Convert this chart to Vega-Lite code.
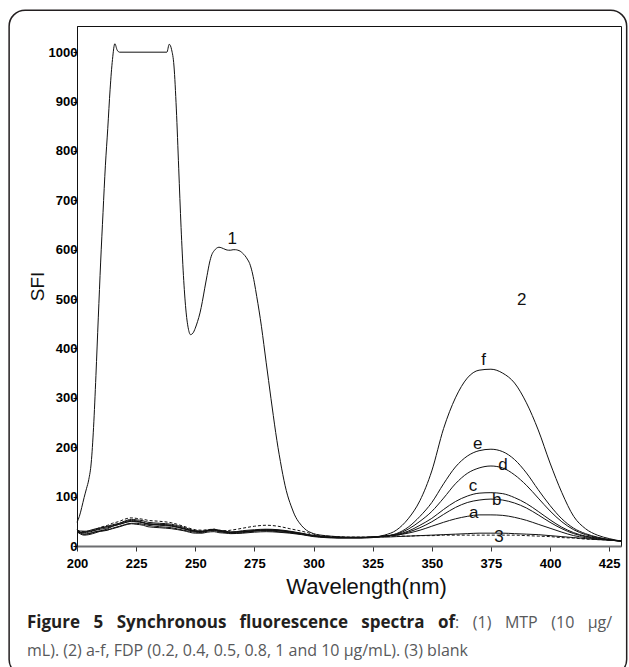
{
  "$schema": "https://vega.github.io/schema/vega-lite/v6.json",
  "width": 544,
  "height": 520,
  "autosize": {"type": "none"},
  "padding": {"left": 77, "top": 26, "right": 8, "bottom": 121},
  "background": "white",
  "config": {
    "view": {"stroke": "#111", "strokeWidth": 1},
    "font": "Liberation Sans",
    "text": {"font": "Open Sans", "fontSize": 16, "align": "left", "baseline": "alphabetic", "color": "#58595b"}
  },
  "datasets": {
    "mtp": [
      {"wl":200,"sfi":48},{"wl":201,"sfi":60},{"wl":202,"sfi":78},{"wl":203,"sfi":98},{"wl":204,"sfi":116},
      {"wl":205,"sfi":135},{"wl":206,"sfi":168},{"wl":207,"sfi":240},{"wl":208,"sfi":345},{"wl":209,"sfi":462},
      {"wl":210,"sfi":575},{"wl":211,"sfi":675},{"wl":212,"sfi":770},{"wl":213,"sfi":845},{"wl":214,"sfi":925},
      {"wl":215,"sfi":985},{"wl":216,"sfi":1017},{"wl":217,"sfi":1004},{"wl":218,"sfi":1000},{"wl":238,"sfi":1000},
      {"wl":239,"sfi":1016},{"wl":240,"sfi":1005},{"wl":241,"sfi":972},{"wl":242,"sfi":885},{"wl":243,"sfi":765},
      {"wl":244,"sfi":645},{"wl":245,"sfi":548},{"wl":246,"sfi":480},{"wl":247,"sfi":442},{"wl":248,"sfi":428},
      {"wl":249,"sfi":431},{"wl":250,"sfi":441},{"wl":251,"sfi":455},{"wl":252,"sfi":472},{"wl":253,"sfi":495},
      {"wl":254,"sfi":522},{"wl":255,"sfi":548},{"wl":256,"sfi":573},{"wl":257,"sfi":590},{"wl":258,"sfi":598},
      {"wl":259,"sfi":603},{"wl":260,"sfi":605},{"wl":261,"sfi":604},{"wl":262,"sfi":602},{"wl":263,"sfi":600},
      {"wl":264,"sfi":599},{"wl":265,"sfi":599},{"wl":266,"sfi":600},{"wl":267,"sfi":600},{"wl":268,"sfi":599},
      {"wl":269,"sfi":597},{"wl":270,"sfi":593},{"wl":271,"sfi":588},{"wl":272,"sfi":581},{"wl":273,"sfi":572},
      {"wl":274,"sfi":556},{"wl":275,"sfi":533},{"wl":276,"sfi":505},{"wl":277,"sfi":476},{"wl":278,"sfi":444},
      {"wl":279,"sfi":408},{"wl":280,"sfi":371},{"wl":281,"sfi":335},{"wl":282,"sfi":299},{"wl":283,"sfi":264},
      {"wl":284,"sfi":230},{"wl":285,"sfi":199},{"wl":286,"sfi":171},{"wl":287,"sfi":145},{"wl":288,"sfi":122},
      {"wl":289,"sfi":103},{"wl":290,"sfi":88},{"wl":291,"sfi":75},{"wl":292,"sfi":63},{"wl":293,"sfi":54},
      {"wl":294,"sfi":47},{"wl":295,"sfi":41},{"wl":296,"sfi":36},{"wl":297,"sfi":32},{"wl":298,"sfi":29},
      {"wl":299,"sfi":27},{"wl":300,"sfi":25},{"wl":305,"sfi":21},{"wl":310,"sfi":19},{"wl":315,"sfi":18},
      {"wl":320,"sfi":18},{"wl":325,"sfi":18},{"wl":330,"sfi":18},{"wl":335,"sfi":19},{"wl":340,"sfi":20},
      {"wl":345,"sfi":21},{"wl":350,"sfi":22},{"wl":355,"sfi":23},{"wl":360,"sfi":24},{"wl":365,"sfi":25},
      {"wl":370,"sfi":26},{"wl":375,"sfi":26},{"wl":380,"sfi":26},{"wl":385,"sfi":25},{"wl":390,"sfi":24},
      {"wl":395,"sfi":23},{"wl":400,"sfi":21},{"wl":405,"sfi":19},{"wl":410,"sfi":17},{"wl":415,"sfi":15},
      {"wl":420,"sfi":13},{"wl":425,"sfi":12},{"wl":430,"sfi":10}
    ],
    "fdp": [
      {"wl":200,"a":31,"b":29,"c":27,"d":34,"e":29,"f":31,"blank":30},
      {"wl":203,"a":30,"b":24,"c":28,"d":24,"e":22,"f":27,"blank":29},
      {"wl":205,"a":30,"b":25,"c":31,"d":25,"e":23,"f":28,"blank":30},
      {"wl":208,"a":33,"b":29,"c":35,"d":29,"e":27,"f":32,"blank":34},
      {"wl":210,"a":36,"b":30,"c":37,"d":31,"e":30,"f":34,"blank":38},
      {"wl":213,"a":40,"b":32,"c":39,"d":35,"e":33,"f":37,"blank":42},
      {"wl":215,"a":43,"b":36,"c":41,"d":40,"e":35,"f":40,"blank":46},
      {"wl":218,"a":46,"b":40,"c":44,"d":46,"e":39,"f":44,"blank":50},
      {"wl":220,"a":49,"b":43,"c":47,"d":50,"e":42,"f":47,"blank":54},
      {"wl":223,"a":52,"b":46,"c":50,"d":54,"e":45,"f":50,"blank":57},
      {"wl":225,"a":51,"b":46,"c":50,"d":53,"e":44,"f":49,"blank":56},
      {"wl":228,"a":48,"b":44,"c":47,"d":51,"e":42,"f":47,"blank":54},
      {"wl":230,"a":45,"b":42,"c":45,"d":48,"e":39,"f":44,"blank":52},
      {"wl":235,"a":44,"b":39,"c":42,"d":46,"e":37,"f":43,"blank":50},
      {"wl":240,"a":42,"b":37,"c":40,"d":44,"e":35,"f":41,"blank":47},
      {"wl":245,"a":36,"b":32,"c":35,"d":38,"e":31,"f":35,"blank":40},
      {"wl":250,"a":30,"b":28,"c":30,"d":31,"e":26,"f":30,"blank":33},
      {"wl":253,"a":30,"b":27,"c":29,"d":30,"e":26,"f":29,"blank":32},
      {"wl":255,"a":31,"b":30,"c":31,"d":32,"e":28,"f":31,"blank":33},
      {"wl":258,"a":33,"b":31,"c":33,"d":34,"e":29,"f":32,"blank":34},
      {"wl":260,"a":32,"b":29,"c":31,"d":31,"e":27,"f":30,"blank":32},
      {"wl":263,"a":30,"b":27,"c":29,"d":29,"e":26,"f":28,"blank":31},
      {"wl":265,"a":28,"b":26,"c":28,"d":28,"e":25,"f":27,"blank":32},
      {"wl":270,"a":29,"b":27,"c":29,"d":31,"e":26,"f":29,"blank":36},
      {"wl":275,"a":31,"b":30,"c":31,"d":33,"e":28,"f":31,"blank":40},
      {"wl":280,"a":33,"b":31,"c":32,"d":34,"e":29,"f":32,"blank":42},
      {"wl":285,"a":32,"b":29,"c":31,"d":33,"e":28,"f":31,"blank":40},
      {"wl":290,"a":29,"b":27,"c":29,"d":30,"e":26,"f":28,"blank":35},
      {"wl":295,"a":25,"b":24,"c":25,"d":26,"e":23,"f":24,"blank":30},
      {"wl":300,"a":21,"b":20,"c":21,"d":21,"e":19,"f":20,"blank":24},
      {"wl":305,"a":19,"b":18,"c":18,"d":19,"e":17,"f":18,"blank":20},
      {"wl":310,"a":17,"b":17,"c":17,"d":17,"e":16,"f":17,"blank":19},
      {"wl":315,"a":17,"b":17,"c":17,"d":17,"e":16,"f":17,"blank":18},
      {"wl":320,"a":17,"b":17,"c":17,"d":17,"e":16,"f":17,"blank":18},
      {"wl":325,"a":18,"b":18,"c":18,"d":18,"e":17,"f":18,"blank":18},
      {"wl":330,"a":20,"b":20,"c":20,"d":20,"e":20,"f":22,"blank":19},
      {"wl":335,"a":22,"b":22,"c":23,"d":24,"e":25,"f":32,"blank":20},
      {"wl":340,"a":26,"b":28,"c":30,"d":34,"e":38,"f":55,"blank":20},
      {"wl":345,"a":32,"b":37,"c":42,"d":50,"e":60,"f":92,"blank":21},
      {"wl":350,"a":40,"b":49,"c":56,"d":70,"e":88,"f":152,"blank":21},
      {"wl":355,"a":48,"b":64,"c":74,"d":97,"e":126,"f":238,"blank":22},
      {"wl":360,"a":55,"b":78,"c":90,"d":126,"e":160,"f":300,"blank":22},
      {"wl":365,"a":60,"b":88,"c":101,"d":147,"e":182,"f":340,"blank":22},
      {"wl":370,"a":63,"b":93,"c":107,"d":158,"e":193,"f":356,"blank":22},
      {"wl":375,"a":63,"b":95,"c":108,"d":162,"e":196,"f":358,"blank":22},
      {"wl":380,"a":62,"b":93,"c":106,"d":158,"e":191,"f":350,"blank":22},
      {"wl":385,"a":58,"b":87,"c":98,"d":144,"e":175,"f":330,"blank":22},
      {"wl":390,"a":52,"b":77,"c":86,"d":123,"e":148,"f":290,"blank":21},
      {"wl":395,"a":44,"b":63,"c":70,"d":97,"e":114,"f":235,"blank":20},
      {"wl":400,"a":36,"b":48,"c":53,"d":71,"e":82,"f":168,"blank":19},
      {"wl":405,"a":28,"b":35,"c":38,"d":49,"e":55,"f":108,"blank":17},
      {"wl":410,"a":21,"b":25,"c":27,"d":33,"e":36,"f":60,"blank":16},
      {"wl":415,"a":17,"b":19,"c":20,"d":23,"e":25,"f":35,"blank":14},
      {"wl":420,"a":14,"b":15,"c":16,"d":17,"e":18,"f":22,"blank":13},
      {"wl":425,"a":12,"b":12,"c":12,"d":13,"e":13,"f":15,"blank":12},
      {"wl":430,"a":10,"b":10,"c":10,"d":10,"e":10,"f":10,"blank":10}
    ],
    "labels": [
      {"label":"1","wl":265.6,"sfi":621},
      {"label":"2","wl":388,"sfi":498},
      {"label":"f","wl":371.9,"sfi":377},
      {"label":"e","wl":369.4,"sfi":206},
      {"label":"d","wl":380.1,"sfi":164},
      {"label":"c","wl":367.4,"sfi":121},
      {"label":"b","wl":377.5,"sfi":93},
      {"label":"a","wl":367.7,"sfi":67},
      {"label":"3","wl":378.4,"sfi":19}
    ]
  },
  "layer": [
    {
      "data": {"values": [{}]},
      "mark": {"type": "rect", "filled": false, "stroke": "#231f20", "strokeWidth": 1.5, "cornerRadius": 16},
      "encoding": {
        "x": {"datum": 171.3, "type": "quantitative", "scale": {"domain": [200, 430], "nice": false, "zero": false}},
        "x2": {"datum": 432.4},
        "y": {"datum": 1085, "type": "quantitative", "scale": {"domain": [0, 1053], "nice": false}},
        "y2": {"datum": -262}
      }
    },
    {
      "data": {"name": "mtp"},
      "mark": {"type": "line", "color": "#111", "strokeWidth": 1, "interpolate": "monotone"},
      "encoding": {
        "x": {
          "field": "wl", "type": "quantitative",
          "scale": {"domain": [200, 430], "nice": false, "zero": false},
          "axis": {
            "values": [200,225,250,275,300,325,350,375,400,425],
            "title": "Wavelength(nm)",
            "grid": false,
            "domainColor": "#6d6e71", "domainWidth": 2,
            "tickColor": "#333", "tickSize": 5, "tickWidth": 1,
            "labelFont": "Liberation Sans Narrow, Liberation Sans", "labelFontWeight": "bold", "labelFontSize": 13,
            "labelColor": "#000", "labelPadding": 6, "labelFlush": false, "labelOverlap": false,
            "titleFont": "Liberation Sans", "titleFontSize": 22, "titleFontWeight": "normal", "titleColor": "#111",
            "titleX": 289, "titleY": 47, "titleAlign": "center", "titleBaseline": "alphabetic"
          }
        },
        "y": {
          "field": "sfi", "type": "quantitative",
          "scale": {"domain": [0, 1053], "nice": false},
          "axis": {
            "values": [0,100,200,300,400,500,600,700,800,900,1000],
            "format": "d",
            "title": "SFI",
            "grid": false,
            "domainColor": "#111", "domainWidth": 1,
            "tickColor": "#111", "tickSize": 4, "tickWidth": 1,
            "labelFont": "Liberation Sans Narrow, Liberation Sans", "labelFontWeight": "bold", "labelFontSize": 13,
            "labelColor": "#000", "labelPadding": -4, "labelOverlap": false,
            "titleFont": "Liberation Sans", "titleFontSize": 19, "titleFontWeight": "normal", "titleColor": "#111", "titlePadding": 1
          }
        }
      }
    },
    {
      "data": {"name": "fdp"},
      "transform": [{"fold": ["a","b","c","d","e","f"], "as": ["series","sfi"]}],
      "mark": {"type": "line", "color": "#111", "strokeWidth": 1, "interpolate": "monotone"},
      "encoding": {
        "x": {"field": "wl", "type": "quantitative", "scale": {"domain": [200, 430], "nice": false, "zero": false}},
        "y": {"field": "sfi", "type": "quantitative", "scale": {"domain": [0, 1053], "nice": false}},
        "detail": {"field": "series"}
      }
    },
    {
      "data": {"name": "fdp"},
      "mark": {"type": "line", "color": "#111", "strokeWidth": 1, "strokeDash": [3, 2], "interpolate": "monotone"},
      "encoding": {
        "x": {"field": "wl", "type": "quantitative", "scale": {"domain": [200, 430], "nice": false, "zero": false}},
        "y": {"field": "blank", "type": "quantitative", "scale": {"domain": [0, 1053], "nice": false}}
      }
    },
    {
      "data": {"name": "labels"},
      "mark": {"type": "text", "font": "Liberation Sans", "fontSize": 17, "color": "#111", "align": "center", "baseline": "middle"},
      "encoding": {
        "x": {"field": "wl", "type": "quantitative", "scale": {"domain": [200, 430], "nice": false, "zero": false}},
        "y": {"field": "sfi", "type": "quantitative", "scale": {"domain": [0, 1053], "nice": false}},
        "text": {"field": "label"}
      }
    },
    {"data": {"values": [{}]}, "mark": {"type": "text", "fontWeight": "bold", "fontSize": 17, "color": "#231f20"},
     "encoding": {"x": {"datum": 178.86, "type": "quantitative", "scale": {"domain": [200, 430], "nice": false, "zero": false}}, "y": {"datum": -166, "type": "quantitative", "scale": {"domain": [0, 1053], "nice": false}}, "text": {"value": "Figure"}}},
    {"data": {"values": [{}]}, "mark": {"type": "text", "fontWeight": "bold", "fontSize": 17, "color": "#231f20"},
     "encoding": {"x": {"datum": 207.02, "type": "quantitative", "scale": {"domain": [200, 430], "nice": false, "zero": false}}, "y": {"datum": -166, "type": "quantitative", "scale": {"domain": [0, 1053], "nice": false}}, "text": {"value": "5"}}},
    {"data": {"values": [{}]}, "mark": {"type": "text", "fontWeight": "bold", "fontSize": 17, "color": "#231f20"},
     "encoding": {"x": {"datum": 216.79, "type": "quantitative", "scale": {"domain": [200, 430], "nice": false, "zero": false}}, "y": {"datum": -166, "type": "quantitative", "scale": {"domain": [0, 1053], "nice": false}}, "text": {"value": "Synchronous"}}},
    {"data": {"values": [{}]}, "mark": {"type": "text", "fontWeight": "bold", "fontSize": 17, "color": "#231f20"},
     "encoding": {"x": {"datum": 268.75, "type": "quantitative", "scale": {"domain": [200, 430], "nice": false, "zero": false}}, "y": {"datum": -166, "type": "quantitative", "scale": {"domain": [0, 1053], "nice": false}}, "text": {"value": "fluorescence"}}},
    {"data": {"values": [{}]}, "mark": {"type": "text", "fontWeight": "bold", "fontSize": 17, "color": "#231f20"},
     "encoding": {"x": {"datum": 320.16, "type": "quantitative", "scale": {"domain": [200, 430], "nice": false, "zero": false}}, "y": {"datum": -166, "type": "quantitative", "scale": {"domain": [0, 1053], "nice": false}}, "text": {"value": "spectra"}}},
    {"data": {"values": [{}]}, "mark": {"type": "text", "fontWeight": "bold", "fontSize": 17, "color": "#231f20"},
     "encoding": {"x": {"datum": 352.63, "type": "quantitative", "scale": {"domain": [200, 430], "nice": false, "zero": false}}, "y": {"datum": -166, "type": "quantitative", "scale": {"domain": [0, 1053], "nice": false}}, "text": {"value": "of"}}},
    {"data": {"values": [{}]}, "mark": {"type": "text"},
     "encoding": {"x": {"datum": 359.86, "type": "quantitative", "scale": {"domain": [200, 430], "nice": false, "zero": false}}, "y": {"datum": -166, "type": "quantitative", "scale": {"domain": [0, 1053], "nice": false}}, "text": {"value": ":"}}},
    {"data": {"values": [{}]}, "mark": {"type": "text"},
     "encoding": {"x": {"datum": 367.34, "type": "quantitative", "scale": {"domain": [200, 430], "nice": false, "zero": false}}, "y": {"datum": -166, "type": "quantitative", "scale": {"domain": [0, 1053], "nice": false}}, "text": {"value": "(1)"}}},
    {"data": {"values": [{}]}, "mark": {"type": "text"},
     "encoding": {"x": {"datum": 380.92, "type": "quantitative", "scale": {"domain": [200, 430], "nice": false, "zero": false}}, "y": {"datum": -166, "type": "quantitative", "scale": {"domain": [0, 1053], "nice": false}}, "text": {"value": "MTP"}}},
    {"data": {"values": [{}]}, "mark": {"type": "text"},
     "encoding": {"x": {"datum": 400.53, "type": "quantitative", "scale": {"domain": [200, 430], "nice": false, "zero": false}}, "y": {"datum": -166, "type": "quantitative", "scale": {"domain": [0, 1053], "nice": false}}, "text": {"value": "(10"}}},
    {"data": {"values": [{}]}, "mark": {"type": "text"},
     "encoding": {"x": {"datum": 415.92, "type": "quantitative", "scale": {"domain": [200, 430], "nice": false, "zero": false}}, "y": {"datum": -166, "type": "quantitative", "scale": {"domain": [0, 1053], "nice": false}}, "text": {"value": "μg/"}}},
    {"data": {"values": [{}]}, "mark": {"type": "text"},
     "encoding": {"x": {"datum": 178.86, "type": "quantitative", "scale": {"domain": [200, 430], "nice": false, "zero": false}}, "y": {"datum": -223, "type": "quantitative", "scale": {"domain": [0, 1053], "nice": false}}, "text": {"value": "mL). (2) a-f, FDP (0.2, 0.4, 0.5, 0.8, 1 and 10 μg/mL). (3) blank"}}}
  ]
}
